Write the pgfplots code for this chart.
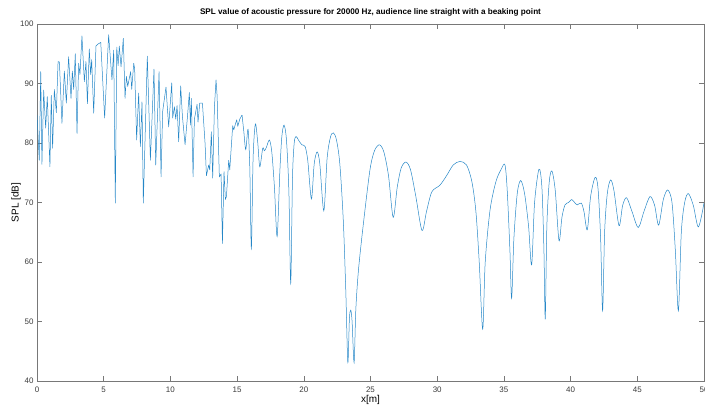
\documentclass[border=0pt]{standalone}
\usepackage{pgfplots}
\pgfplotsset{compat=1.18}
\usepackage{fontspec}
\setmainfont{Liberation Sans}
\definecolor{mblue}{RGB}{0,114,189}
\definecolor{axgray}{RGB}{120,120,120}
\definecolor{txgray}{RGB}{60,60,60}
\begin{document}
\begin{tikzpicture}
\path[use as bounding box] (-37bp,-25bp) rectangle (668bp,381bp);
\begin{axis}[
  at={(0,0)}, anchor=south west,
  scale only axis, width=667bp, height=357bp,
  xmin=0, xmax=50, ymin=40, ymax=100,
  xtick={0,5,...,50}, ytick={40,50,...,100},
  tick align=inside, major tick length=5bp,
  axis line style={axgray, line width=0.6bp},
  every tick/.style={axgray, line width=0.6bp},
  tick label style={font=\fontsize{8}{9}\selectfont, text=txgray},
  /pgf/number format/assume math mode=true,
  xticklabel style={yshift=-2bp},
  label style={font=\fontsize{8}{9}\selectfont, text=txgray},
  xlabel={x[m]}, ylabel={SPL [dB]},
  every axis x label/.style={at={(axis description cs:0.5,0)}, yshift=-19bp, anchor=center},
  every axis y label/.style={at={(axis description cs:0,0.5)}, xshift=-21bp, rotate=90, anchor=center},
  title={SPL value of acoustic pressure for 20000 Hz, audience line straight with a beaking point},
  title style={at={(axis description cs:0.5,1)}, yshift=6bp, anchor=center, font=\bfseries\fontsize{8.2}{9}\selectfont, text=black},
]
\addplot[mblue!85, line width=0.5bp, line join=round] coordinates {
(0.0,84.7) (0.17,77.1) (0.28,92.0) (0.37,76.4) (0.5,88.9) (0.65,82.5) (0.77,87.8) (0.97,76.0)
(1.07,88.0) (1.17,79.1) (1.3,89.0) (1.45,85.1) (1.58,93.7) (1.68,93.6) (1.87,83.3) (2.05,92.1)
(2.2,86.7) (2.37,94.5) (2.55,87.5) (2.65,92.1) (2.75,89.0) (2.87,95.0) (3.0,81.6) (3.12,93.4)
(3.22,91.5) (3.37,98.0) (3.55,90.3) (3.67,93.7) (3.78,86.6) (3.92,95.8) (4.02,91.5) (4.1,94.0)
(4.25,85.0) (4.42,96.3) (4.55,96.6) (4.78,96.9) (5.07,84.2) (5.37,98.2) (5.62,90.6) (5.75,95.6)
(5.87,69.9) (5.98,96.1) (6.08,93.0) (6.17,96.3) (6.3,92.8) (6.47,97.6) (6.6,87.5) (6.7,91.2)
(6.8,89.5) (7.02,92.0) (7.1,89.0) (7.25,93.4) (7.32,92.5) (7.47,80.5) (7.62,88.4) (7.75,79.4)
(7.87,86.9) (7.97,69.9) (8.27,94.6) (8.5,77.1) (8.77,92.4) (8.9,76.3) (9.15,92.0) (9.3,74.3)
(9.42,85.3) (9.67,89.4) (9.87,82.7) (10.1,90.1) (10.17,84.2) (10.3,86.1) (10.4,84.0) (10.5,86.3)
(10.62,80.2) (10.77,89.6) (10.9,84.5) (11.1,79.7) (11.3,85.0) (11.42,88.5) (11.5,83.0) (11.57,87.5)
(11.7,74.3) (11.8,84.0) (12.0,86.5) (12.07,83.5) (12.2,86.7) (12.4,86.7) (12.6,79.9) (12.7,74.5)
(12.87,76.3) (12.95,75.5) (13.07,81.9) (13.17,74.1) (13.3,86.0) (13.42,90.6) (13.5,88.0) (13.67,74.3)
(13.8,74.8) (13.9,63.1) (14.02,75.2) (14.12,70.5) (14.2,71.0) (14.37,77.1) (14.45,75.5) (14.67,82.9)
(14.75,82.2) (14.85,83.0) (14.97,83.9) (15.05,82.8) (15.2,84.0) (15.37,84.7)
};
\addplot[mblue!85, line width=0.5bp, smooth, tension=0.5] coordinates {
(15.37,84.7) (15.5,82.0) (15.65,78.9) (15.82,82.3) (15.95,76.0) (16.07,62.3) (16.2,77.5) (16.37,83.2)
(16.55,80.0) (16.7,76.0) (16.92,79.1) (17.05,78.7) (17.2,79.3) (17.42,80.5) (17.6,78.5) (17.8,72.5)
(18.0,64.3) (18.2,75.0) (18.35,81.0) (18.52,83.0) (18.7,80.5) (18.88,72.0) (19.02,56.4) (19.15,74.0)
(19.28,80.0) (19.42,81.1) (19.6,80.5) (19.85,79.7) (20.1,79.4) (20.3,77.0) (20.57,70.6) (20.78,76.5)
(21.0,78.5) (21.2,76.5) (21.5,68.6) (21.75,77.5) (22.0,81.0) (22.22,81.7) (22.45,80.5) (22.7,76.5)
(22.96,67.0) (23.15,55.0) (23.3,43.1) (23.42,50.5) (23.52,51.9) (23.62,50.0) (23.77,43.1) (23.9,52.0)
(24.1,58.7) (24.47,66.5) (24.96,75.5) (25.3,78.7) (25.67,79.7) (26.0,78.5) (26.35,74.5) (26.7,67.5)
(27.0,72.5) (27.3,75.8) (27.66,76.8) (28.0,75.5) (28.4,71.0) (28.86,65.3) (29.2,68.5) (29.6,71.8)
(30.2,72.9) (30.7,74.5) (31.2,76.3) (31.7,76.9) (32.2,76.3) (32.6,73.5) (32.9,68.5) (33.15,60.0)
(33.41,48.7) (33.6,60.0) (33.96,68.7) (34.4,73.5) (34.8,75.6) (35.08,76.3) (35.25,72.0) (35.45,62.0)
(35.58,53.9) (35.75,64.0) (36.0,71.5) (36.26,73.7) (36.55,71.5) (36.85,66.0) (37.08,59.5) (37.3,70.0)
(37.63,75.6) (37.85,72.5) (38.0,62.0) (38.1,50.4) (38.22,66.0) (38.4,73.5) (38.6,75.3) (38.85,72.0)
(39.13,63.6) (39.35,67.5) (39.58,69.6) (39.85,70.0) (40.08,70.5) (40.3,70.0) (40.5,69.6) (40.8,69.9)
(41.0,68.5) (41.25,65.4) (41.5,71.0) (41.83,74.2) (42.05,72.5) (42.25,64.0) (42.4,51.8) (42.55,65.0)
(42.75,71.5) (43.0,73.8) (43.25,72.0) (43.63,66.1) (43.9,69.5) (44.2,70.8) (44.6,68.5) (45.07,65.8)
(45.5,68.5) (45.95,71.0) (46.3,69.5) (46.6,66.2) (46.95,70.5) (47.28,72.1) (47.6,70.0) (47.85,62.0)
(48.08,51.8) (48.3,65.0) (48.55,70.0) (48.83,71.5) (49.2,69.5) (49.58,65.9) (50.0,69.9)
};
\end{axis}
\end{tikzpicture}
\end{document}
